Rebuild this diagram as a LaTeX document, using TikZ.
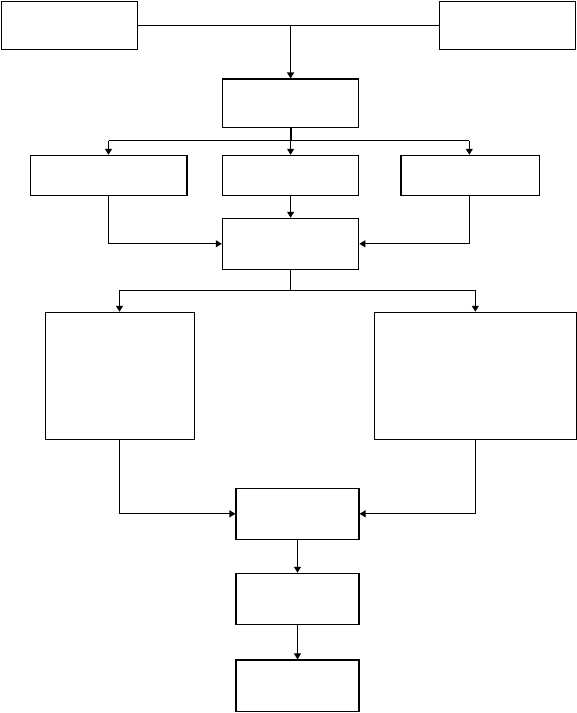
\documentclass[tikz,border=0pt]{standalone}
\usetikzlibrary{arrows.meta}
\begin{document}
\begin{tikzpicture}[x=1pt,y=-1pt,
  box/.style={draw=black,line width=1.1pt,inner sep=0pt,minimum width=#1},
  conn/.style={draw=black,line width=1.1pt},
  arr/.style={conn,-{Triangle[width=7pt,length=6pt]}}]
\useasboundingbox (0,0) rectangle (577,713);
\node[box=136pt,minimum height=48pt] (a) at (69.5,25.5) {};
\node[box=136pt,minimum height=48pt] (b) at (507.3,25.5) {};
\node[box=136pt,minimum height=48.5pt] (c) at (290.6,103.25) {};
\node[box=156.4pt,minimum height=40pt] (d) at (108.8,175.3) {};
\node[box=136.5pt,minimum height=40pt] (e) at (290.6,175.3) {};
\node[box=138.5pt,minimum height=40pt] (f) at (470.25,175.3) {};
\node[box=136.5pt,minimum height=51pt] (g) at (290.6,243.8) {};
\node[box=149.3pt,minimum height=127pt] (h) at (120,375.8) {};
\node[box=201.7pt,minimum height=127pt] (i) at (475.2,375.8) {};
\node[box=123pt,minimum height=51pt] (j) at (297.5,513.8) {};
\node[box=123pt,minimum height=51pt] (k) at (297.5,598.8) {};
\node[box=123pt,minimum height=51.3pt] (l) at (297.5,685.6) {};
\coordinate (t1) at (290.6,25.5);
\coordinate (t2) at (290.6,140.5);
\coordinate (t3) at (290.6,290.3);
\coordinate (dx) at (108.5,140.5);
\coordinate (fx) at (469.3,140.5);
\coordinate (hx) at (119.5,290.3);
\coordinate (ix) at (475.3,290.3);
% top
\path[conn] (a.east) -- (b.west);
\path[arr] (t1) -- (c.north);
\path[conn,line width=2.2pt] (c.south) -- (t2);
\path[conn] (dx) -- (fx);
\path[arr] (dx) -- (dx |- d.north);
\path[arr] (t2) -- (e.north);
\path[arr] (fx) -- (fx |- f.north);
% merge into g
\path[arr] (dx |- d.south) |- (g.west);
\path[arr] (fx |- f.south) |- (g.east);
\path[arr] (e.south) -- (g.north);
% split
\path[conn] (g.south) -- (t3);
\path[conn] (hx) -- (ix);
\path[arr] (hx) -- (hx |- h.north);
\path[arr] (ix) -- (ix |- i.north);
% merge into j
\path[arr] (hx |- h.south) |- (j.west);
\path[arr] (ix |- i.south) |- (j.east);
\path[arr] (j.south) -- (k.north);
\path[arr] (k.south) -- (l.north);
\end{tikzpicture}
\end{document}
